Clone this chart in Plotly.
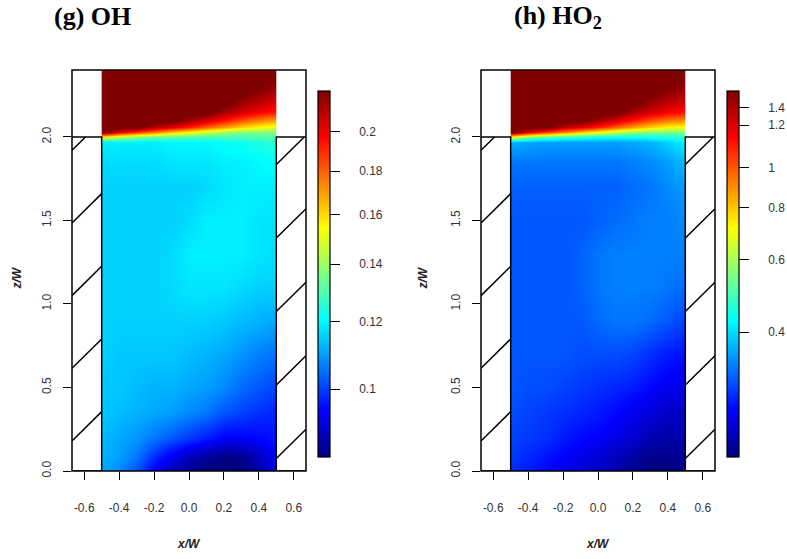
import numpy as np
import plotly.graph_objects as go

# ---------------- data ----------------
X_GRID = [-0.5, -0.4, -0.3, -0.2, -0.1, 0.0, 0.1, 0.2, 0.3, 0.4, 0.5]
Z_GRID = [0.0, 0.08, 0.2, 0.35, 0.5, 0.7, 0.9, 1.1, 1.3, 1.5, 1.7, 1.85,
          1.97, 2.0, 2.03, 2.06, 2.1, 2.15, 2.2, 2.28, 2.4]

OH = [
    [0.1110, 0.1078, 0.1016, 0.0939, 0.0885, 0.0851, 0.0834, 0.0834, 0.0834, 0.0868, 0.0921],
    [0.1121, 0.1099, 0.1057, 0.0977, 0.0921, 0.0876, 0.0851, 0.0834, 0.0842, 0.0885, 0.0939],
    [0.1132, 0.1110, 0.1089, 0.1057, 0.1026, 0.0996, 0.0967, 0.0939, 0.0939, 0.0948, 0.0958],
    [0.1144, 0.1132, 0.1121, 0.1110, 0.1099, 0.1078, 0.1057, 0.1026, 0.1006, 0.0986, 0.0977],
    [0.1144, 0.1144, 0.1132, 0.1121, 0.1121, 0.1110, 0.1099, 0.1078, 0.1047, 0.1026, 0.1006],
    [0.1155, 0.1144, 0.1144, 0.1144, 0.1144, 0.1132, 0.1121, 0.1110, 0.1089, 0.1067, 0.1057],
    [0.1155, 0.1155, 0.1155, 0.1155, 0.1155, 0.1155, 0.1155, 0.1144, 0.1132, 0.1121, 0.1110],
    [0.1155, 0.1155, 0.1155, 0.1155, 0.1166, 0.1178, 0.1178, 0.1178, 0.1166, 0.1155, 0.1155],
    [0.1155, 0.1155, 0.1155, 0.1155, 0.1166, 0.1190, 0.1190, 0.1190, 0.1190, 0.1178, 0.1166],
    [0.1155, 0.1155, 0.1155, 0.1155, 0.1155, 0.1166, 0.1190, 0.1190, 0.1190, 0.1178, 0.1178],
    [0.1155, 0.1155, 0.1155, 0.1155, 0.1155, 0.1155, 0.1166, 0.1178, 0.1190, 0.1190, 0.1190],
    [0.1166, 0.1166, 0.1166, 0.1166, 0.1178, 0.1178, 0.1178, 0.1190, 0.1190, 0.1202, 0.1214],
    [0.1190, 0.1190, 0.1190, 0.1190, 0.1202, 0.1202, 0.1202, 0.1214, 0.1226, 0.1238, 0.1262],
    [0.1507, 0.1434, 0.1366, 0.1326, 0.1300, 0.1300, 0.1287, 0.1287, 0.1287, 0.1300, 0.1313],
    [0.2300, 0.2025, 0.1872, 0.1747, 0.1630, 0.1537, 0.1463, 0.1407, 0.1366, 0.1366, 0.1366],
    [0.2300, 0.2300, 0.2300, 0.2127, 0.2025, 0.1928, 0.1799, 0.1696, 0.1614, 0.1552, 0.1507],
    [0.2300, 0.2300, 0.2300, 0.2300, 0.2300, 0.2169, 0.2065, 0.1947, 0.1835, 0.1747, 0.1696],
    [0.2300, 0.2300, 0.2300, 0.2300, 0.2300, 0.2300, 0.2300, 0.2148, 0.2065, 0.1986, 0.1928],
    [0.2300, 0.2300, 0.2300, 0.2300, 0.2300, 0.2300, 0.2300, 0.2300, 0.2169, 0.2106, 0.2025],
    [0.2300, 0.2300, 0.2300, 0.2300, 0.2300, 0.2300, 0.2300, 0.2300, 0.2300, 0.2213, 0.2169],
    [0.2300, 0.2300, 0.2300, 0.2300, 0.2300, 0.2300, 0.2300, 0.2300, 0.2300, 0.2300, 0.2300],
]

HO2 = [
    [0.2830, 0.2716, 0.2608, 0.2503, 0.2403, 0.2307, 0.2215, 0.2083, 0.2000, 0.2000, 0.2083],
    [0.2888, 0.2772, 0.2661, 0.2555, 0.2453, 0.2355, 0.2260, 0.2126, 0.2041, 0.2041, 0.2126],
    [0.2948, 0.2888, 0.2830, 0.2716, 0.2608, 0.2555, 0.2453, 0.2355, 0.2215, 0.2170, 0.2215],
    [0.3009, 0.2948, 0.2888, 0.2830, 0.2772, 0.2716, 0.2608, 0.2503, 0.2403, 0.2307, 0.2307],
    [0.3071, 0.3009, 0.3009, 0.2948, 0.2888, 0.2830, 0.2772, 0.2716, 0.2608, 0.2503, 0.2453],
    [0.3071, 0.3071, 0.3071, 0.3071, 0.3009, 0.3009, 0.3009, 0.2948, 0.2830, 0.2716, 0.2661],
    [0.3071, 0.3071, 0.3071, 0.3071, 0.3071, 0.3199, 0.3265, 0.3265, 0.3199, 0.3071, 0.2948],
    [0.3071, 0.3071, 0.3071, 0.3071, 0.3134, 0.3265, 0.3332, 0.3332, 0.3332, 0.3265, 0.3199],
    [0.3071, 0.3071, 0.3071, 0.3071, 0.3134, 0.3265, 0.3332, 0.3332, 0.3332, 0.3332, 0.3332],
    [0.3071, 0.3071, 0.3071, 0.3071, 0.3071, 0.3134, 0.3199, 0.3265, 0.3332, 0.3332, 0.3401],
    [0.3134, 0.3134, 0.3134, 0.3134, 0.3134, 0.3134, 0.3134, 0.3199, 0.3265, 0.3401, 0.3543],
    [0.3265, 0.3265, 0.3265, 0.3265, 0.3265, 0.3265, 0.3265, 0.3332, 0.3401, 0.3543, 0.3767],
    [0.3690, 0.3616, 0.3543, 0.3543, 0.3543, 0.3543, 0.3543, 0.3616, 0.3690, 0.3924, 0.4258],
    [0.6796, 0.5549, 0.5014, 0.4716, 0.4527, 0.4346, 0.4346, 0.4346, 0.4435, 0.4527, 0.4716],
    [1.6000, 1.2519, 1.0631, 0.9215, 0.7995, 0.7079, 0.6268, 0.5781, 0.5549, 0.5437, 0.5549],
    [1.6000, 1.6000, 1.6000, 1.3865, 1.2519, 1.1305, 0.9797, 0.8668, 0.7833, 0.7225, 0.7079],
    [1.6000, 1.6000, 1.6000, 1.6000, 1.6000, 1.4443, 1.3041, 1.1538, 1.0206, 0.9405, 0.9029],
    [1.6000, 1.6000, 1.6000, 1.6000, 1.6000, 1.6000, 1.6000, 1.4151, 1.3041, 1.2019, 1.1538],
    [1.6000, 1.6000, 1.6000, 1.6000, 1.6000, 1.6000, 1.6000, 1.6000, 1.4443, 1.3585, 1.2777],
    [1.6000, 1.6000, 1.6000, 1.6000, 1.6000, 1.6000, 1.6000, 1.6000, 1.6000, 1.5045, 1.4443],
    [1.6000, 1.6000, 1.6000, 1.6000, 1.6000, 1.6000, 1.6000, 1.6000, 1.6000, 1.6000, 1.6000],
]

OH_RANGE = [0.0834, 0.2236]
OH_TICKS = [0.1, 0.12, 0.14, 0.16, 0.18, 0.2]
OH_TICK_TEXT = ["0.1", "0.12", "0.14", "0.16", "0.18", "0.2"]

HO2_RANGE = [0.2, 1.54]
HO2_TICKS = [0.4, 0.6, 0.8, 1.0, 1.27, 1.4]
HO2_TICK_TEXT = ["0.4", "0.6", "0.8", "1", "1.2", "1.4"]

X_TICKS = [-0.6, -0.4, -0.2, 0.0, 0.2, 0.4, 0.6]
X_TICK_TEXT = ["-0.6", "-0.4", "-0.2", "0.0", "0.2", "0.4", "0.6"]
Z_TICKS = [0.0, 0.5, 1.0, 1.5, 2.0]
Z_TICK_TEXT = ["0.0", "0.5", "1.0", "1.5", "2.0"]

TITLES = ["<b>(g) OH</b>", "<b>(h) HO<sub>2</sub></b>"]

# ---------------- layout geometry (pixels) ----------------
W, H = 787, 559
PLOT_TOP, PLOT_BOT = 71, 477
XR = [-0.67, 0.67]
ZR = [0.0, 2.4]
WALL_TOP = 2.0
FIELD = 0.5
SLOPE = (234 / 1.34) / (406 / 2.4)  # 45 degree hatch in pixels
NBSP = "\u00a0"

JET = [[0.0, "#00007F"], [0.125, "#0000FF"], [0.375, "#00FFFF"],
       [0.625, "#FFFF00"], [0.875, "#FF0000"], [1.0, "#7F0000"]]

TICKFONT = dict(family="Liberation Sans, Arial, sans-serif", size=12, color="#333333")

panels = [
    dict(data=OH, rng=OH_RANGE, ticks=OH_TICKS, text=OH_TICK_TEXT,
         box=(72, 306), cbx=318, title=TITLES[0], tx=52, ylab_x=17),
    dict(data=HO2, rng=HO2_RANGE, ticks=HO2_TICKS, text=HO2_TICK_TEXT,
         box=(481, 715), cbx=727, title=TITLES[1], tx=512, ylab_x=423),
]

fig = go.Figure()
shapes = []
annotations = []

for i, p in enumerate(panels):
    xa = "x" if i == 0 else "x2"
    ya = "y" if i == 0 else "y2"
    zlog = np.log(np.array(p["data"]))
    fig.add_trace(go.Heatmap(
        x=X_GRID, y=Z_GRID, z=zlog, xaxis=xa, yaxis=ya,
        colorscale=JET, zmin=np.log(p["rng"][0]), zmax=np.log(p["rng"][1]),
        zsmooth="best", hoverinfo="skip",
        colorbar=dict(
            x=p["cbx"] / W, xanchor="left", xpad=0, y=1 - 277 / H, yanchor="middle",
            ypad=0, len=366, lenmode="pixels", thickness=12, thicknessmode="pixels",
            outlinewidth=1.2, outlinecolor="black",
            tickvals=list(np.log(p["ticks"])), ticktext=[NBSP * 5 + t for t in p["text"]],
            ticks="outside", ticklen=10, tickwidth=1.2, tickcolor="black",
            tickfont=TICKFONT,
        ),
    ))

    axkey = "xaxis" if i == 0 else "xaxis2"
    aykey = "yaxis" if i == 0 else "yaxis2"
    fig.update_layout(**{
        axkey: dict(domain=[p["box"][0] / W, p["box"][1] / W], range=XR, anchor=ya,
                    tickvals=X_TICKS, ticktext=X_TICK_TEXT, ticks="outside", ticklen=8,
                    tickwidth=1.2, tickcolor="black", showgrid=False, zeroline=False,
                    showline=False, tickfont=TICKFONT, ticklabelstandoff=18),
        aykey: dict(domain=[1 - PLOT_BOT / H, 1 - PLOT_TOP / H], range=ZR, anchor=xa,
                    tickvals=Z_TICKS, ticktext=Z_TICK_TEXT, ticks="outside", ticklen=8,
                    tickwidth=1.2, tickcolor="black", showgrid=False, zeroline=False,
                    showline=False, tickfont=TICKFONT, tickangle=-90, ticklabelstandoff=7),
    })

    # white cover outside the field
    for (a, b) in [(-0.8, -FIELD), (FIELD, 0.8)]:
        shapes.append(dict(type="rect", xref=xa, yref=ya, x0=a, x1=b, y0=-0.1, y1=2.6,
                           fillcolor="white", line=dict(width=0), layer="above"))
    # walls with hatch
    walls = [(-0.8, -FIELD, XR[0], [0.18 + 0.435 * k for k in range(5)]),
             (FIELD, 0.8, FIELD, [0.075 + 0.44 * k for k in range(5)])]
    for (a, b, hx0, starts) in walls:
        shapes.append(dict(type="rect", xref=xa, yref=ya, x0=a, x1=b, y0=0, y1=WALL_TOP,
                           fillcolor="white", line=dict(color="black", width=1.5),
                           layer="above"))
        hx1 = hx0 + (XR[1] - FIELD)
        for z0 in starts:
            x1 = hx1
            z1 = z0 + SLOPE * (hx1 - hx0)
            if z1 > WALL_TOP:
                x1 = hx0 + (WALL_TOP - z0) / SLOPE
                z1 = WALL_TOP
            shapes.append(dict(type="line", xref=xa, yref=ya, x0=hx0, y0=z0, x1=x1, y1=z1,
                               line=dict(color="black", width=1.5), layer="above"))
    # frame
    shapes.append(dict(type="rect", xref="paper", yref="paper",
                       x0=p["box"][0] / W, x1=p["box"][1] / W,
                       y0=1 - PLOT_BOT / H, y1=1 - PLOT_TOP / H,
                       line=dict(color="black", width=1.5), fillcolor="rgba(0,0,0,0)",
                       layer="above"))

    # titles and axis labels
    annotations.append(dict(text=p["title"], xref="paper", yref="paper", x=p["tx"] / W,
                            y=1 - 17 / H, xanchor="left", yanchor="middle", showarrow=False,
                            font=dict(family="Liberation Serif, Times New Roman, serif",
                                      size=26, color="black")))
    cx = (p["box"][0] + p["box"][1]) / 2
    annotations.append(dict(text="<b><i>x/W</i></b>", xref="paper", yref="paper", x=cx / W,
                            y=1 - 551 / H, xanchor="center", yanchor="middle",
                            showarrow=False,
                            font=dict(family="Liberation Sans, Arial, sans-serif", size=12,
                                      color="#222222")))
    annotations.append(dict(text="<b><i>z/W</i></b>", xref="paper", yref="paper",
                            x=p["ylab_x"] / W, y=1 - 282 / H, xanchor="center",
                            yanchor="middle", textangle=-90, showarrow=False,
                            font=dict(family="Liberation Sans, Arial, sans-serif", size=12,
                                      color="#222222")))

fig.update_layout(width=W, height=H, margin=dict(l=0, r=0, t=0, b=0),
                  paper_bgcolor="white", plot_bgcolor="white", showlegend=False,
                  shapes=shapes, annotations=annotations)

fig.write_html("out.html")
